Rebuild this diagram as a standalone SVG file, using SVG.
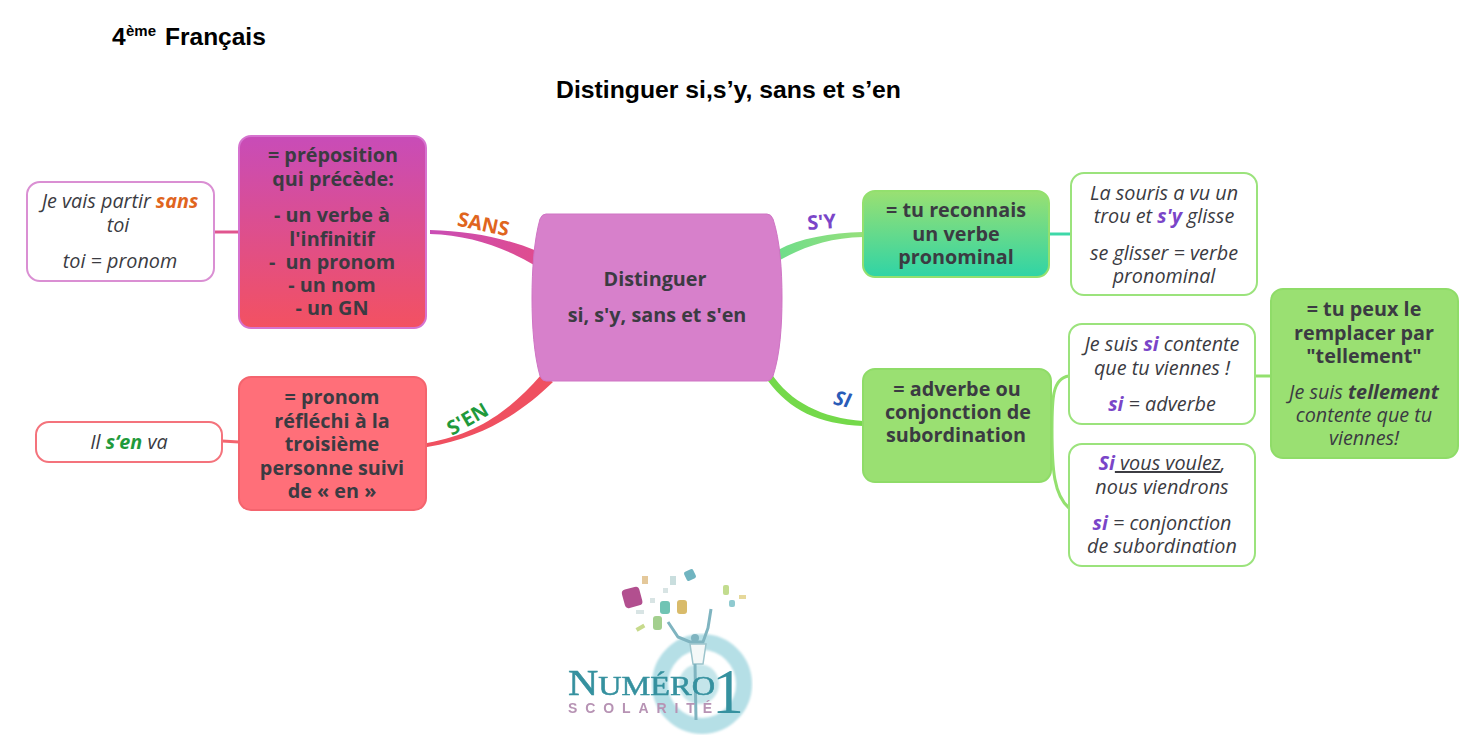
<svg xmlns="http://www.w3.org/2000/svg" width="1464" height="749" viewBox="0 0 1464 749">
<defs>
<linearGradient id="gSans" x1="0" y1="0" x2="0" y2="1"><stop offset="0" stop-color="#c84cb8"/><stop offset="1" stop-color="#f35161"/></linearGradient>
<linearGradient id="gSy" x1="0" y1="0" x2="0" y2="1"><stop offset="0" stop-color="#9ae072"/><stop offset="1" stop-color="#2fd4a6"/></linearGradient>
<linearGradient id="gLinkSans" x1="0" y1="0" x2="1" y2="0"><stop offset="0" stop-color="#c94db5"/><stop offset="1" stop-color="#e04c8e"/></linearGradient>
<linearGradient id="gLinkSy" x1="0" y1="0" x2="1" y2="0"><stop offset="0" stop-color="#6fdd8a"/><stop offset="1" stop-color="#96e07c"/></linearGradient>
<filter id="soft" x="-10%" y="-10%" width="120%" height="120%"><feGaussianBlur stdDeviation="0.6"/></filter>
<filter id="soft2" x="-10%" y="-10%" width="120%" height="120%"><feGaussianBlur stdDeviation="1.2"/></filter>
</defs>
<style>
text{font-family:"Open Sans","Noto Sans",sans-serif;fill:#3b3b42;text-anchor:middle;font-size:19.8px}
.b{font-weight:700}
.i{font-style:italic}
.head{font-family:"Liberation Sans",Arial,sans-serif;font-weight:700;fill:#000;text-anchor:start;font-size:24.5px}
.lab{font-weight:700;font-size:20px}
.box{stroke-width:2}
.note{fill:#fff;stroke-width:2}
.o{fill:#e0651e;font-weight:700}
.g{fill:#1f9a3c;font-weight:700}
.p{fill:#7a45c8;font-weight:700}
.line{fill:none;stroke-width:3}
</style>
<rect width="1464" height="749" fill="#fff"/>
<g id="title">
<text class="head" x="112" y="45">4<tspan x="126" dy="-9" font-size="15">ème</tspan><tspan x="165" dy="9">Français</tspan></text>
<text class="head" x="556" y="98" textLength="345" lengthAdjust="spacingAndGlyphs">Distinguer si,s’y, sans et s’en</text>
</g>
<g id="connectors">
<path d="M430 230C470 231 505 238 537 251L534 265C505 248 470 235 430 234Z" fill="url(#gLinkSans)"/>
<path d="M427 443C480 434 512 408 541 375L553 382C522 412 485 437 427 447Z" fill="#ef5060"/>
<path d="M778 250C800 238 830 233 863 232V237C830 238 805 246 780 260Z" fill="url(#gLinkSy)"/>
<path d="M771 373C790 402 822 418 863 421V426C818 424 790 410 768 381Z" fill="#74d94a"/>
<path d="M214 232H239" class="line" stroke="#e0558f"/>
<path d="M222 441L239 442" class="line" stroke="#f4656f"/>
<path d="M1049 234H1071" class="line" stroke="#3ed8a8"/>
<path d="M1052 430C1052 400 1052 378 1069 376" class="line" stroke="#93e06e"/>
<path d="M1052 430C1052 470 1054 495 1069 508" class="line" stroke="#93e06e"/>
<path d="M1255 376H1271" class="line" stroke="#93e06e"/>
</g>
<g id="link-labels">
<text class="lab" style="fill:#e0651e" transform="translate(482 231) rotate(12)">SANS</text>
<text class="lab" style="fill:#1f9a3c" transform="translate(471 425) rotate(-30)">S'EN</text>
<text class="lab" style="fill:#7a45c8" transform="translate(822 229) rotate(-4)">S'Y</text>
<text class="lab i" style="fill:#2a5cb8" transform="translate(841 406) rotate(12)">SI</text>
</g>
<g id="center">
<path d="M546 214H767Q771 214 773 219C780 240 782 270 782 298C782 326 780 355 773 376Q771 381 767 381H546Q542 381 540 376C534 355 532 326 532 298C532 270 534 240 540 219Q542 214 546 214Z" fill="#d780cb" stroke="#cf74c4" stroke-width="1"/>
<text class="b" x="655" y="286">Distinguer</text>
<text class="b" x="657" y="322">si, s'y, sans et s'en</text>
</g>
<g id="node-sans">
<rect class="box" x="239" y="136" width="187" height="192" rx="12" fill="url(#gSans)" stroke="#d673cf"/>
<text class="b" x="333" y="162">= préposition</text>
<text class="b" x="333" y="186">qui précède:</text>
<text class="b" x="332" y="222">- un verbe à</text>
<text class="b" x="332" y="246">l'infinitif</text>
<text class="b" x="332" y="269" xml:space="preserve">-  un pronom</text>
<text class="b" x="332" y="292">- un nom</text>
<text class="b" x="332" y="315">- un GN</text>
</g>
<g id="note-sans">
<rect class="note" x="27" y="182" width="187" height="99" rx="13" stroke="#da8fd3"/>
<text class="i" x="120" y="208">Je vais partir <tspan class="o">sans</tspan></text>
<text class="i" x="118" y="232">toi</text>
<text class="i" x="120" y="268">toi = pronom</text>
</g>
<g id="node-sen">
<rect class="box" x="239" y="377" width="187" height="133" rx="12" fill="#ff6f79" stroke="#f4646e"/>
<text class="b" x="332" y="404">= pronom</text>
<text class="b" x="332" y="428">réfléchi à la</text>
<text class="b" x="332" y="451">troisième</text>
<text class="b" x="332" y="475">personne suivi</text>
<text class="b" x="332" y="498">de « en »</text>
</g>
<g id="note-sen">
<rect class="note" x="36" y="422" width="186" height="40" rx="13" stroke="#f4737c"/>
<text class="i" x="129" y="449">Il <tspan class="g">s‘en</tspan> va</text>
</g>
<g id="node-sy">
<rect class="box" x="863" y="191" width="186" height="86" rx="12" fill="url(#gSy)" stroke="#93e06e"/>
<text class="b" x="956" y="217">= tu reconnais</text>
<text class="b" x="956" y="241">un verbe</text>
<text class="b" x="956" y="264">pronominal</text>
</g>
<g id="note-sy">
<rect class="note" x="1071" y="173" width="186" height="122" rx="13" stroke="#9be37c"/>
<text class="i" x="1164" y="200">La souris a vu un</text>
<text class="i" x="1164" y="223">trou et <tspan class="p">s'y</tspan> glisse</text>
<text class="i" x="1164" y="260">se glisser = verbe</text>
<text class="i" x="1164" y="283">pronominal</text>
</g>
<g id="node-si">
<rect class="box" x="863" y="369" width="188" height="113" rx="12" fill="#9ae072" stroke="#8fdc68"/>
<text class="b" x="957" y="396">= adverbe ou</text>
<text class="b" x="958" y="419">conjonction de</text>
<text class="b" x="956" y="442">subordination</text>
</g>
<g id="note-si1">
<rect class="note" x="1069" y="324" width="186" height="100" rx="13" stroke="#9be37c"/>
<text class="i" x="1162" y="351">Je suis <tspan class="p">si</tspan> contente</text>
<text class="i" x="1162" y="375">que tu viennes !</text>
<text class="i" x="1162" y="411"><tspan class="p">si</tspan> = adverbe</text>
</g>
<g id="note-si2">
<rect class="note" x="1069" y="444" width="186" height="122" rx="13" stroke="#9be37c"/>
<text class="i" x="1162" y="470"><tspan class="p">Si</tspan><tspan text-decoration="underline"> vous voulez</tspan>,</text>
<text class="i" x="1162" y="494">nous viendrons</text>
<text class="i" x="1162" y="530"><tspan class="p">si</tspan> = conjonction</text>
<text class="i" x="1162" y="553">de subordination</text>
</g>
<g id="node-tellement">
<rect class="box" x="1271" y="289" width="187" height="169" rx="12" fill="#9ae072" stroke="#8fdc68"/>
<text class="b" x="1364" y="316">= tu peux le</text>
<text class="b" x="1364" y="340">remplacer par</text>
<text class="b" x="1364" y="363">"tellement"</text>
<text class="i" x="1364" y="399">Je suis <tspan font-weight="700">tellement</tspan></text>
<text class="i" x="1364" y="422">contente que tu</text>
<text class="i" x="1364" y="445">viennes!</text>
</g>
<g id="logo">
<g filter="url(#soft2)">
<circle cx="702" cy="684" r="42" fill="none" stroke="#b5dfe6" stroke-width="16"/>
<circle cx="699" cy="684" r="20" fill="#c4e5ea"/>
</g>
<g filter="url(#soft)">
<rect x="623" y="588" width="18" height="19" rx="4" fill="#b2508f" transform="rotate(-15 632 597)"/>
<rect x="660" y="601" width="10" height="13" rx="3" fill="#6fc4b4"/>
<rect x="677" y="600" width="10" height="14" rx="3" fill="#d9bb6a"/>
<rect x="653" y="616" width="9" height="14" rx="3" fill="#a3cf8e"/>
<rect x="685" y="570" width="10" height="10" rx="2" fill="#6fb4c0" transform="rotate(-25 690 575)"/>
<rect x="723" y="585" width="6" height="10" rx="2" fill="#c2dc8e"/>
<rect x="729" y="600" width="6" height="7" rx="2" fill="#8fcad0"/>
<rect x="636" y="626" width="9" height="4" fill="#c7da8c" transform="rotate(-30 640 628)"/>
<rect x="642" y="576" width="6" height="8" fill="#e4c89a"/>
<rect x="670" y="576" width="6" height="9" fill="#c9dede"/>
<rect x="739" y="595" width="7" height="4" fill="#e6d89a"/>
<rect x="636" y="610" width="8" height="4" fill="#d8e4e4"/>
<rect x="650" y="598" width="5" height="5" fill="#d8e4e4"/>
<rect x="663" y="588" width="5" height="5" fill="#d8e4e4"/>
<path d="M668 622L678 637L690 642H703L708 628L711 609" fill="none" stroke="#7fb4c0" stroke-width="3"/>
<circle cx="695" cy="638" r="4" fill="#7fb4c0"/>
<path d="M690 644H706L703 664H693Z" fill="#f4f8f8" stroke="#9cc4cc" stroke-width="1.5"/>
<path d="M695 664L696 720" fill="none" stroke="#7fb4c0" stroke-width="3"/>
</g>
<text x="568" y="695" filter="url(#soft)" style="font-family:'Liberation Serif',serif;font-size:35px;fill:#36919f;stroke:#36919f;stroke-width:.5;text-anchor:start" textLength="147" lengthAdjust="spacingAndGlyphs">N<tspan font-size="27">UMÉRO</tspan></text>
<text x="568" y="713" filter="url(#soft)" style="font-family:'Liberation Sans',sans-serif;font-size:14px;font-weight:700;fill:#b793b4;text-anchor:start" textLength="144" lengthAdjust="spacing">SCOLARITÉ</text>
<text x="728" y="713" filter="url(#soft)" style="font-family:'Liberation Serif',serif;font-size:64px;fill:#36919f">1</text>
</g>
</svg>
